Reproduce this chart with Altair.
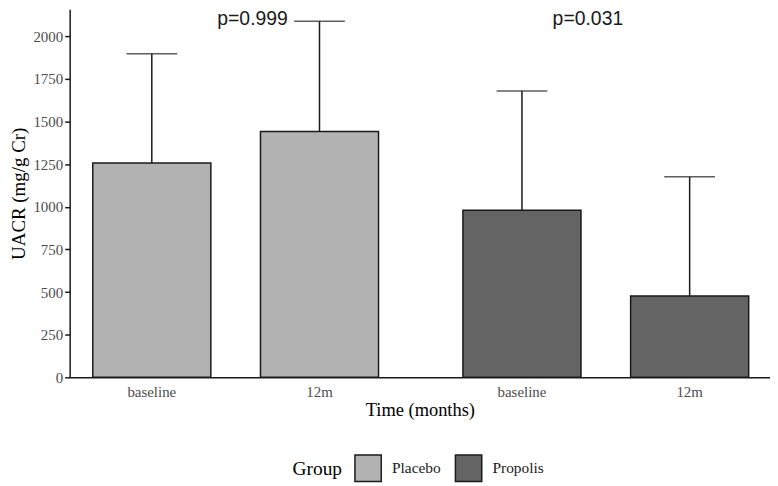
import altair as alt
import pandas as pd

groups = ["Placebo", "Placebo", "Propolis", "Propolis"]
times = ["baseline", "12m", "baseline", "12m"]
means = [1257, 1441, 979, 477]
sds = [640, 647, 700, 699]

p_groups = ["Placebo", "Propolis"]
p_labels = ["p=0.999", "p=0.031"]
p_y = [2098, 2098]

y_ticks = [0, 250, 500, 750, 1000, 1250, 1500, 1750, 2000]

df = pd.DataFrame({"Group": groups, "Time": times, "mean": means, "sd": sds})
df["upper"] = df["mean"] + df["sd"]
df["zero"] = 0
pdf = pd.DataFrame({"Group": p_groups, "label": p_labels, "y": p_y})

time_order = ["baseline", "12m"]

x_enc = alt.X("Group:N", title="Time (months)",
              scale=alt.Scale(paddingInner=0.228, paddingOuter=0.06, align=0.52),
              axis=alt.Axis(labels=False, ticks=False, domainColor="#1a1a1a",
                            domainWidth=1.5, titleFont="Liberation Serif",
                            titleFontSize=18.5, titleFontWeight="normal",
                            titleColor="#000000", titlePadding=23))
xo_enc = alt.XOffset("Time:N", sort=time_order,
                     scale=alt.Scale(paddingInner=0.296, paddingOuter=0))
y_scale = alt.Scale(domain=[0, 2158], nice=False, zero=True)

bars = alt.Chart(df).mark_bar(stroke="#1a1a1a", strokeWidth=1.5).encode(
    x=x_enc,
    xOffset=xo_enc,
    y=alt.Y("mean:Q", scale=y_scale, title="UACR (mg/g Cr)",
            axis=alt.Axis(values=y_ticks, format="d", grid=False,
                          domainColor="#1a1a1a",
                          domainWidth=1.5, tickColor="#1a1a1a", tickWidth=1.5,
                          tickSize=5, labelFont="Liberation Serif",
                          labelFontSize=15, labelColor="#4d4d4d",
                          labelPadding=2, titleFont="Liberation Serif",
                          titleFontSize=19, titleFontWeight="normal",
                          titleColor="#000000", titlePadding=4)),
    color=alt.Color("Group:N",
                    scale=alt.Scale(domain=["Placebo", "Propolis"],
                                    range=["#b2b2b2", "#646464"]),
                    legend=alt.Legend(orient="none", legendX=224, legendY=447,
                                      direction="horizontal", titleOrient="left",
                                      symbolType="square", symbolSize=700,
                                      symbolStrokeColor="#1a1a1a",
                                      symbolStrokeWidth=1.5,
                                      symbolOpacity=1,
                                      titleFont="Liberation Serif",
                                      titleFontSize=19.5, titleFontWeight="normal",
                                      titleColor="#000000", titlePadding=12,
                                      titleBaseline="middle",
                                      labelFont="Liberation Serif",
                                      labelFontSize=15.5, labelColor="#1a1a1a",
                                      labelOffset=10, columnPadding=10)),
)

xlabels = alt.Chart(df).mark_text(
    font="Liberation Serif", fontSize=15, color="#4d4d4d", baseline="middle",
    dy=15).encode(
    x=alt.X("Group:N"), xOffset=xo_enc,
    y=alt.Y("zero:Q", scale=y_scale), text="Time:N")

rules = alt.Chart(df).mark_rule(color="#1a1a1a", strokeWidth=1.5).encode(
    x=alt.X("Group:N"), xOffset=xo_enc,
    y=alt.Y("mean:Q", scale=y_scale), y2="upper:Q",
)

caps = alt.Chart(df).mark_tick(color="#1a1a1a", thickness=1.5, size=51,
                               orient="horizontal").encode(
    x=alt.X("Group:N"), xOffset=xo_enc,
    y=alt.Y("upper:Q", scale=y_scale),
)

text1 = alt.Chart(pdf).transform_filter(alt.datum.Group == "Placebo").mark_text(
    font="Liberation Sans", fontSize=19.5, color="#1a1a1a", dx=17,
    baseline="middle").encode(
    x=alt.X("Group:N"), y=alt.Y("y:Q", scale=y_scale), text="label:N")

text2 = alt.Chart(pdf).transform_filter(alt.datum.Group == "Propolis").mark_text(
    font="Liberation Sans", fontSize=19.5, color="#1a1a1a", dx=-18,
    baseline="middle").encode(
    x=alt.X("Group:N"), y=alt.Y("y:Q", scale=y_scale), text="label:N")

chart = alt.layer(bars, rules, caps, xlabels, text1, text2).properties(
    width=704, height=370, padding={"left": 2, "top": 0, "right": 0, "bottom": 0}
).configure_view(stroke=None).configure_axis(labelFont="Liberation Serif")

chart.save("out.html", embed_options={"renderer": "svg", "actions": False})
